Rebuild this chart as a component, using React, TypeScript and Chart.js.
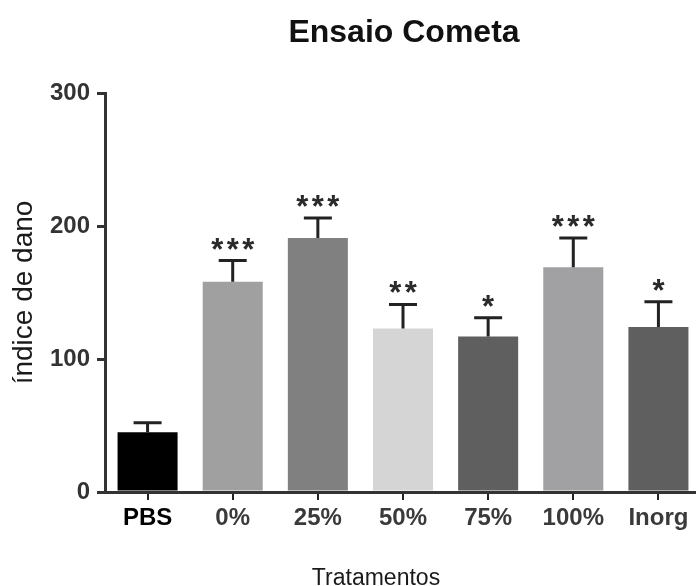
import React, { useEffect, useRef } from 'react';
import { Chart, registerables } from 'chart.js';

Chart.register(...registerables);

const categories = ['PBS', '0%', '25%', '50%', '75%', '100%', 'Inorg'];
const means = [45, 158, 191, 123, 117, 169, 124];
const errors = [7, 16, 15, 18, 14, 22, 19];
const significance = ['', '***', '***', '**', '*', '***', '*'];
const barColors = ['#000000', '#a0a0a0', '#808080', '#d5d5d5', '#5f5f5f', '#a1a1a3', '#5f5f5f'];
const yTicks = [0, 100, 200, 300];
const chartTitle = 'Ensaio Cometa';
const yTitle = 'índice de dano';
const xTitle = 'Tratamentos';

const FONT = '"Liberation Sans", Arial, Helvetica, sans-serif';

const errorBarPlugin = {
  id: 'errorBars',
  afterDatasetsDraw(chart: any) {
    const ctx = chart.ctx;
    const meta = chart.getDatasetMeta(0);
    const yScale = chart.scales.y;
    ctx.save();
    meta.data.forEach((bar: any, i: number) => {
      const x = bar.x;
      const top = yScale.getPixelForValue(means[i]);
      const errY = yScale.getPixelForValue(means[i] + errors[i]);
      ctx.strokeStyle = '#222222';
      ctx.lineWidth = 3;
      ctx.beginPath();
      ctx.moveTo(x, top);
      ctx.lineTo(x, errY);
      ctx.moveTo(x - 14, errY);
      ctx.lineTo(x + 14, errY);
      ctx.stroke();
      const s = significance[i];
      if (s) {
        ctx.font = `bold 31px ${FONT}`;
        ctx.fillStyle = '#2a2a2a';
        ctx.textAlign = 'center';
        ctx.textBaseline = 'alphabetic';
        const m = ctx.measureText('*');
        const asc = m.actualBoundingBoxAscent;
        const desc = m.actualBoundingBoxDescent;
        const cy = errY - 17;
        const by = cy - (desc - asc) / 2;
        const n = s.length;
        for (let k = 0; k < n; k++) {
          const sx = x + (k - (n - 1) / 2) * 15.5;
          ctx.fillText('*', sx, by);
        }
      }
    });
    ctx.restore();
  },
};

const textPlugin = {
  id: 'texts',
  afterDraw(chart: any) {
    const ctx = chart.ctx;
    ctx.save();
    ctx.fillStyle = '#111111';
    ctx.textAlign = 'center';
    ctx.textBaseline = 'alphabetic';
    ctx.font = `bold 32px ${FONT}`;
    ctx.fillText(chartTitle, 404, 42);
    ctx.fillStyle = '#1a1a1a';
    ctx.font = `23px ${FONT}`;
    ctx.fillText(xTitle, 376, 585);
    ctx.restore();
  },
};

export default function App() {
  const ref = useRef<HTMLCanvasElement | null>(null);

  useEffect(() => {
    if (!ref.current) return;
    const chart = new Chart(ref.current, {
      type: 'bar',
      data: {
        labels: categories,
        datasets: [
          {
            data: means,
            backgroundColor: barColors,
            borderWidth: 0,
            categoryPercentage: 1,
            barPercentage: 0.705,
          },
        ],
      },
      options: {
        responsive: false,
        animation: false,
        devicePixelRatio: 1,
        layout: { padding: { top: 93, left: 0, right: 0, bottom: 0 } },
        plugins: {
          legend: { display: false },
          tooltip: { enabled: false },
          title: { display: false },
        },
        scales: {
          x: {
            offset: true,
            z: 1,
            ticks: {
              font: { family: FONT, size: 24, weight: 'bold' },
              color: (c: any) => (c.index === 0 ? '#000000' : '#3a3a3a'),
              padding: 4,
              maxRotation: 0,
              autoSkip: false,
            },
            grid: {
              drawOnChartArea: false,
              offset: false,
              tickLength: 8,
              color: '#222222',
              lineWidth: 2,
            },
            border: { display: true, color: '#333333', width: 3 },
            afterFit: (s: any) => {
              s.height = 94;
            },
          },
          y: {
            min: 0,
            max: 300,
            afterBuildTicks: (s: any) => {
              s.ticks = yTicks.map((v) => ({ value: v }));
            },
            ticks: {
              font: { family: FONT, size: 24, weight: 'bold' },
              color: '#333333',
              padding: 7,
            },
            grid: {
              drawOnChartArea: false,
              drawTicks: true,
              tickLength: 8,
              color: '#333333',
              lineWidth: 3,
            },
            border: { display: true, color: '#333333', width: 3 },
            title: {
              display: true,
              text: yTitle,
              font: { family: FONT, size: 28 },
              color: '#1a1a1a',
              padding: { top: 7, bottom: 0 },
            },
            afterFit: (s: any) => {
              s.width = 105;
            },
          },
        },
      } as any,
      plugins: [errorBarPlugin, textPlugin],
    });
    return () => chart.destroy();
  }, []);

  return (
    <div
      style={{
        position: 'fixed',
        left: 0,
        top: 0,
        width: 696,
        height: 586,
        overflow: 'hidden',
        background: '#ffffff',
      }}
    >
      <canvas ref={ref} width={701} height={586} style={{ display: 'block', width: 701, height: 586 }} />
    </div>
  );
}
